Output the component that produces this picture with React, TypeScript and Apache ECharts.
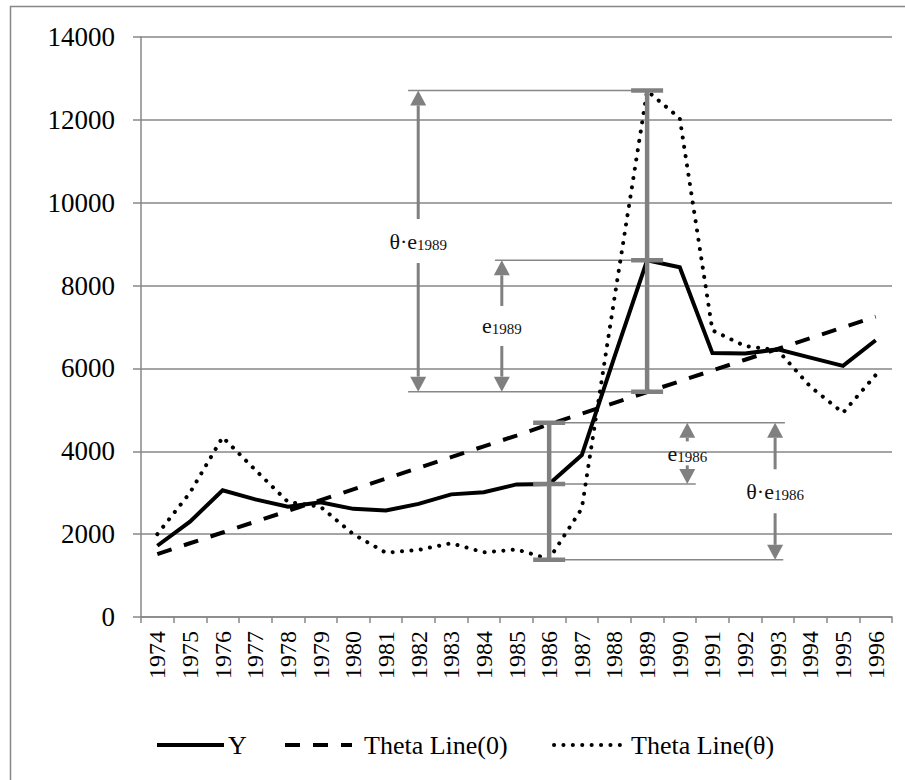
import React, { useEffect, useRef } from 'react';
import * as echarts from 'echarts';

const years = ['1974', '1975', '1976', '1977', '1978', '1979', '1980', '1981', '1982', '1983', '1984', '1985', '1986', '1987', '1988', '1989', '1990', '1991', '1992', '1993', '1994', '1995', '1996'];
const yValues = [1720, 2300, 3060, 2840, 2660, 2770, 2610, 2570, 2730, 2960, 3010, 3200, 3210, 3910, 6280, 8610, 8440, 6370, 6360, 6460, 6260, 6060, 6680];
const thetaLine0 = [1520, 1780, 2040, 2300, 2560, 2820, 3080, 3340, 3600, 3860, 4120, 4380, 4650, 4910, 5170, 5430, 5690, 5950, 6210, 6470, 6730, 6990, 7250];
const thetaLineTheta = [2000, 3000, 4340, 3550, 2780, 2660, 2000, 1550, 1620, 1780, 1560, 1630, 1400, 2620, 7700, 12700, 12040, 6920, 6540, 6440, 5560, 4930, 5840];

const yMin = 0;
const yMax = 14000;
const yInterval = 2000;

// error bars (category index, low, mid, high)
const errorBarIndex = [12, 15];
const errorBarLow = [1380, 5440];
const errorBarMid = [3210, 8610];
const errorBarHigh = [4690, 12710];

// thin guide lines (value, from category index, to category index)
const guideValues = [12710, 8610, 5440, 4690, 3210, 1380];
const guideFrom = [7.68, 10.34, 7.68, 12, 12, 12];
const guideTo = [15, 15, 15, 19.22, 16.49, 19.17];

// double arrows with labels
const arrowX = [7.99, 10.55, 16.23, 18.92];
const arrowTop = [12710, 8610, 4690, 4690];
const arrowBottom = [5440, 5440, 3210, 1380];
const arrowMain = ['θ·e', 'e', 'e', 'θ·e'];
const arrowSub = ['1989', '1989', '1986', '1986'];
const arrowGap = [22, 20, 12, 22];

const FONT = '"Liberation Serif", "Times New Roman", serif';
const GRAY = '#808080';
const GRID = '#878787';

function xAt(api: any, idx: number, v: number) {
  const p0 = api.coord([0, v]);
  const bw = api.size([1, 0])[0];
  return [p0[0] + idx * bw, p0[1]];
}

function legendItem(name: string, left: number, lineWidth: number, padLeft: number) {
  return {
    data: [name],
    left,
    top: 732,
    padding: 0,
    itemWidth: 67,
    itemHeight: 14,
    itemStyle: { color: 'rgba(0,0,0,0)', borderWidth: 0, opacity: 0 },
    lineStyle: { width: lineWidth },
    textStyle: { fontSize: 26, color: '#000', fontFamily: FONT, padding: [0, 0, 0, padLeft] },
  };
}

export default function App() {
  const ref = useRef<HTMLDivElement>(null);
  useEffect(() => {
    if (!ref.current) return;
    const chart = echarts.init(ref.current, null, { renderer: 'svg' });
    const option: any = {
      animation: false,
      backgroundColor: '#fff',
      textStyle: { fontFamily: FONT },
      graphic: [
        {
          type: 'rect',
          silent: true,
          shape: { x: 10.5, y: 6.5, width: 930, height: 820 },
          style: { fill: 'none', stroke: GRID, lineWidth: 1.5 },
        },
      ],
      grid: { left: 141, right: 13, top: 37, bottom: 163, containLabel: false },
      legend: [
        legendItem('Y', 155, 4, -1),
        legendItem('Theta Line(0)', 283, 4, 7),
        legendItem('Theta Line(θ)', 552, 4, 5),
      ],
      xAxis: {
        type: 'category',
        data: years,
        boundaryGap: true,
        axisLine: { lineStyle: { color: GRID, width: 1.5 } },
        axisTick: { show: true, length: 6, lineStyle: { color: GRID, width: 1.5 } },
        axisLabel: { rotate: 90, interval: 0, margin: 14, fontSize: 24, color: '#000', fontFamily: FONT },
        splitLine: { show: false },
      },
      yAxis: {
        type: 'value',
        min: yMin,
        max: yMax,
        interval: yInterval,
        axisLine: { show: true, lineStyle: { color: GRID, width: 1.5 } },
        axisTick: { show: true, length: 8, lineStyle: { color: GRID, width: 1.5 } },
        axisLabel: {
          margin: 26,
          fontSize: 27,
          color: '#000',
          fontFamily: FONT,
          formatter: (v: number) => String(v),
        },
        splitLine: { show: true, lineStyle: { color: GRID, width: 1.5 } },
      },
      series: [
        {
          type: 'custom',
          name: 'guides',
          silent: true,
          z: 1,
          data: guideValues.map((v, i) => [guideFrom[i], v]),
          renderItem: (params: any, api: any) => {
            const i = params.dataIndex;
            const a = xAt(api, guideFrom[i], guideValues[i]);
            const b = xAt(api, guideTo[i], guideValues[i]);
            return {
              type: 'line',
              shape: { x1: a[0], y1: a[1], x2: b[0], y2: b[1] },
              style: { stroke: GRID, lineWidth: 1.5 },
            };
          },
        },
        {
          type: 'line',
          name: 'Y',
          data: yValues,
          symbol: 'none',
          z: 3,
          color: '#000',
          lineStyle: { color: '#000', width: 4, cap: 'butt', join: 'miter' },
        },
        {
          type: 'line',
          name: 'Theta Line(0)',
          data: thetaLine0,
          symbol: 'none',
          z: 3,
          color: '#000',
          lineStyle: { color: '#000', width: 4, type: [15, 13], cap: 'butt' },
        },
        {
          type: 'line',
          name: 'Theta Line(θ)',
          data: thetaLineTheta,
          symbol: 'none',
          z: 3,
          color: '#000',
          lineStyle: { color: '#000', width: 4, type: [0.1, 9.3], cap: 'round' },
        },
        {
          type: 'custom',
          name: 'errorbars',
          silent: true,
          z: 4,
          data: errorBarIndex.map((x, i) => [x, errorBarMid[i]]),
          renderItem: (params: any, api: any) => {
            const i = params.dataIndex;
            const lo = xAt(api, errorBarIndex[i], errorBarLow[i]);
            const mid = xAt(api, errorBarIndex[i], errorBarMid[i]);
            const hi = xAt(api, errorBarIndex[i], errorBarHigh[i]);
            const half = 16;
            const st = { stroke: GRAY, lineWidth: 4.5 };
            return {
              type: 'group',
              children: [
                { type: 'line', shape: { x1: lo[0], y1: lo[1], x2: hi[0], y2: hi[1] }, style: st },
                { type: 'line', shape: { x1: lo[0] - half, y1: lo[1], x2: lo[0] + half, y2: lo[1] }, style: st },
                { type: 'line', shape: { x1: mid[0] - half, y1: mid[1], x2: mid[0] + half, y2: mid[1] }, style: st },
                { type: 'line', shape: { x1: hi[0] - half, y1: hi[1], x2: hi[0] + half, y2: hi[1] }, style: st },
              ],
            };
          },
        },
        {
          type: 'custom',
          name: 'arrows',
          silent: true,
          z: 4,
          data: arrowX.map((x, i) => [x, arrowTop[i]]),
          renderItem: (params: any, api: any) => {
            const i = params.dataIndex;
            const t = xAt(api, arrowX[i], arrowTop[i]);
            const b = xAt(api, arrowX[i], arrowBottom[i]);
            const x = t[0];
            const y1 = t[1];
            const y2 = b[1];
            const H = 15;
            const W = 8;
            const mid = (y1 + y2) / 2;
            const g = arrowGap[i];
            const children: any[] = [
              { type: 'polygon', shape: { points: [[x, y1], [x - W, y1 + H], [x + W, y1 + H]] }, style: { fill: GRAY } },
              { type: 'polygon', shape: { points: [[x, y2], [x - W, y2 - H], [x + W, y2 - H]] }, style: { fill: GRAY } },
            ];
            if (mid - g > y1 + H) {
              children.push({ type: 'line', shape: { x1: x, y1: y1 + H, x2: x, y2: mid - g }, style: { stroke: GRAY, lineWidth: 3 } });
            }
            if (mid + g < y2 - H) {
              children.push({ type: 'line', shape: { x1: x, y1: mid + g, x2: x, y2: y2 - H }, style: { stroke: GRAY, lineWidth: 3 } });
            }
            children.push({
              type: 'text',
              style: {
                text: '{a|' + arrowMain[i] + '}{b|' + arrowSub[i] + '}',
                x: x,
                y: mid,
                align: 'center',
                verticalAlign: 'middle',
                fill: '#111',
                rich: {
                  a: { fontSize: 22, fontFamily: FONT, fill: '#111', verticalAlign: 'bottom', lineHeight: 22 },
                  b: { fontSize: 15, fontFamily: FONT, fill: '#111', verticalAlign: 'bottom', lineHeight: 15 },
                },
              },
            });
            return { type: 'group', children };
          },
        },
      ],
    };
    chart.setOption(option);
    return () => chart.dispose();
  }, []);
  return (
    <div
      ref={ref}
      style={{ position: 'fixed', left: 0, top: 0, width: 905, height: 780, background: '#fff' }}
    />
  );
}
